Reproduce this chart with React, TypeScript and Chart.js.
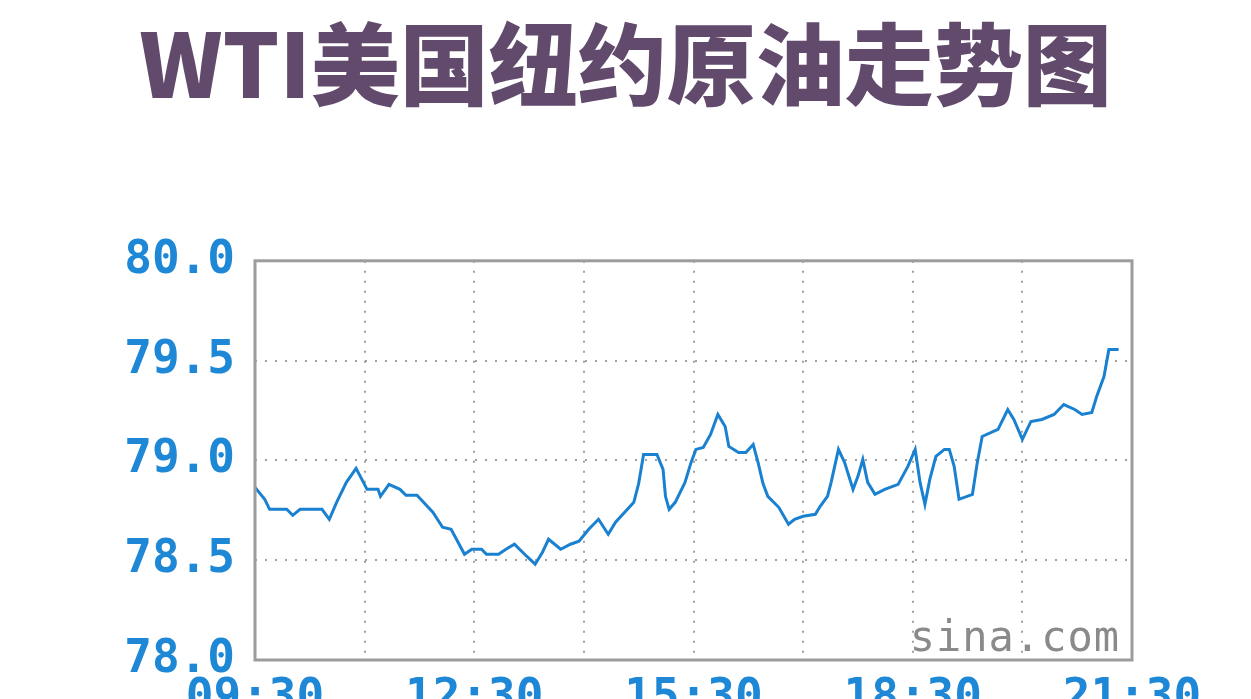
import React, { useEffect, useRef } from 'react';
import { Chart, registerables } from 'chart.js';

Chart.register(...registerables);

// trading session, 09:30 -> 21:30
const sessionStart = '09:30';
const sessionMinutes = 720;

// sample times and WTI prices
const times = [
  '09:30', '09:38', '09:42', '09:56', '10:01', '10:07', '10:25', '10:31', '10:37', '10:45',
  '10:53', '11:02', '11:11', '11:13', '11:20', '11:29', '11:34', '11:43', '11:56', '12:04',
  '12:11', '12:22', '12:28', '12:36', '12:40', '12:50', '12:56', '13:03', '13:13', '13:20',
  '13:26', '13:31', '13:41', '13:49', '13:56', '14:04', '14:12', '14:20', '14:26', '14:41',
  '14:45', '14:49', '15:00', '15:05', '15:07', '15:10', '15:15', '15:23', '15:28', '15:32',
  '15:38', '15:44', '15:50', '15:56', '15:59', '16:07', '16:13', '16:19', '16:23', '16:27',
  '16:31', '16:40', '16:48', '16:53', '17:00', '17:10', '17:14', '17:20', '17:23', '17:29',
  '17:34', '17:41', '17:45', '17:49', '17:53', '17:59', '18:07', '18:18', '18:26', '18:32',
  '18:36', '18:40', '18:44', '18:49', '18:56', '19:00', '19:04', '19:08', '19:19', '19:23',
  '19:27', '19:40', '19:48', '19:53', '20:00', '20:07', '20:16', '20:26', '20:34', '20:43',
  '20:49', '20:57', '21:01', '21:07', '21:11', '21:19'
];

const prices = [
  78.865, 78.805, 78.755, 78.755, 78.725, 78.755, 78.755, 78.705, 78.79, 78.89,
  78.96, 78.855, 78.855, 78.82, 78.88, 78.855, 78.825, 78.825, 78.74, 78.665,
  78.655, 78.53, 78.555, 78.555, 78.53, 78.53, 78.555, 78.58, 78.52, 78.48,
  78.54, 78.605, 78.555, 78.58, 78.595, 78.655, 78.705, 78.63, 78.69, 78.79,
  78.885, 79.03, 79.03, 78.955, 78.82, 78.755, 78.79, 78.89, 78.99, 79.055,
  79.065, 79.13, 79.23, 79.17, 79.07, 79.04, 79.04, 79.08, 78.99, 78.885,
  78.82, 78.765, 78.68, 78.705, 78.72, 78.73, 78.77, 78.82, 78.89, 79.055,
  78.99, 78.855, 78.92, 79.005, 78.89, 78.83, 78.855, 78.88, 78.97, 79.055,
  78.89, 78.78, 78.905, 79.02, 79.055, 79.055, 78.97, 78.805, 78.83, 78.99,
  79.12, 79.155, 79.255, 79.205, 79.105, 79.195, 79.205, 79.23, 79.28, 79.255,
  79.23, 79.24, 79.32, 79.42, 79.555, 79.555
];

const yTicks = [78.0, 78.5, 79.0, 79.5, 80.0];
const xLabelTimes = ['09:30', '12:30', '15:30', '18:30', '21:30'];

const toMin = (t: string) => {
  const [h, m] = t.split(':').map(Number);
  return h * 60 + m;
};
const startMin = toMin(sessionStart);
const offsetOf = (t: string) => toMin(t) - startMin;
const labelOf = (off: number) => {
  const total = startMin + off;
  const h = Math.floor(total / 60);
  const m = total % 60;
  return `${String(h).padStart(2, '0')}:${String(m).padStart(2, '0')}`;
};

const MONO = '"DejaVu Sans Mono", "Liberation Mono", monospace';
const TICK_BLUE = '#1e88d6';

// frame round the plot and the watermark
const framePlugin = {
  id: 'frame',
  afterDraw(chart: Chart) {
    const { ctx, chartArea } = chart;
    ctx.save();
    ctx.strokeStyle = '#9c9c9c';
    ctx.lineWidth = 3;
    ctx.strokeRect(chartArea.left, chartArea.top, chartArea.right - chartArea.left, chartArea.bottom - chartArea.top);
    ctx.fillStyle = '#8a8a8a';
    ctx.font = `42px ${MONO}`;
    ctx.textAlign = 'right';
    ctx.textBaseline = 'alphabetic';
    (ctx as any).letterSpacing = '1px';
    ctx.fillText('sina.com', chartArea.right - 12, chartArea.bottom - 9);
    ctx.restore();
  }
};

const App: React.FC = () => {
  const chartRef = useRef<HTMLCanvasElement | null>(null);
  const chartInstance = useRef<Chart | null>(null);

  useEffect(() => {
    document.body.style.margin = '0';
    if (!chartRef.current) return;
    if (chartInstance.current) chartInstance.current.destroy();
    const ctx = chartRef.current.getContext('2d');
    if (!ctx) return;

    const points = times.map((t, i) => ({ x: offsetOf(t), y: prices[i] }));
    const shownLabels = xLabelTimes.map(offsetOf);

    chartInstance.current = new Chart(ctx, {
      type: 'line',
      data: {
        datasets: [
          {
            data: points,
            borderColor: '#1a80d0',
            borderWidth: 3,
            pointRadius: 0,
            tension: 0,
            fill: false
          }
        ]
      },
      options: {
        animation: false,
        responsive: false,
        maintainAspectRatio: false,
        plugins: {
          legend: { display: false },
          tooltip: { enabled: false },
          title: {
            display: true,
            text: 'WTI美国纽约原油走势图',
            color: '#624a6c',
            font: { size: 89, weight: 900, family: '"Noto Sans CJK SC", "Noto Sans", sans-serif', lineHeight: 1.2 },
            padding: { top: 11, bottom: 143 }
          }
        },
        scales: {
          x: {
            type: 'linear',
            min: 0,
            max: sessionMinutes,
            afterFit: (scale: any) => {
              scale.height = 60;
            },
            ticks: {
              stepSize: 90,
              autoSkip: false,
              maxRotation: 0,
              padding: 11,
              color: TICK_BLUE,
              font: { family: MONO, size: 46, weight: 'bold' },
              callback: (v: any) => (shownLabels.includes(Number(v)) ? labelOf(Number(v)) : '')
            },
            grid: { color: '#a0a0a0', lineWidth: 2, drawTicks: false },
            border: { display: false, dash: [2, 8] }
          },
          y: {
            min: yTicks[0],
            max: yTicks[yTicks.length - 1],
            afterFit: (scale: any) => {
              scale.width = 255;
            },
            afterBuildTicks: (scale: any) => {
              scale.ticks = yTicks.map(v => ({ value: v }));
            },
            ticks: {
              padding: 20,
              color: TICK_BLUE,
              font: { family: MONO, size: 46, weight: 'bold' },
              callback: (v: any) => Number(v).toFixed(1)
            },
            grid: { color: '#a0a0a0', lineWidth: 2, drawTicks: false },
            border: { display: false, dash: [2, 8] }
          },
          // empty right-hand band so the plot ends where the reference does
          yRight: {
            position: 'right',
            min: yTicks[0],
            max: yTicks[yTicks.length - 1],
            afterFit: (scale: any) => {
              scale.width = 119;
            },
            ticks: { display: false },
            grid: { display: false },
            border: { display: false }
          }
        }
      },
      plugins: [framePlugin]
    });

    return () => {
      if (chartInstance.current) {
        chartInstance.current.destroy();
        chartInstance.current = null;
      }
    };
  }, []);

  return (
    <div style={{ width: 1251, height: 699, overflow: 'hidden', background: '#fff' }}>
      <canvas ref={chartRef} width={1251} height={720} style={{ display: 'block' }} />
    </div>
  );
};

export default App;
